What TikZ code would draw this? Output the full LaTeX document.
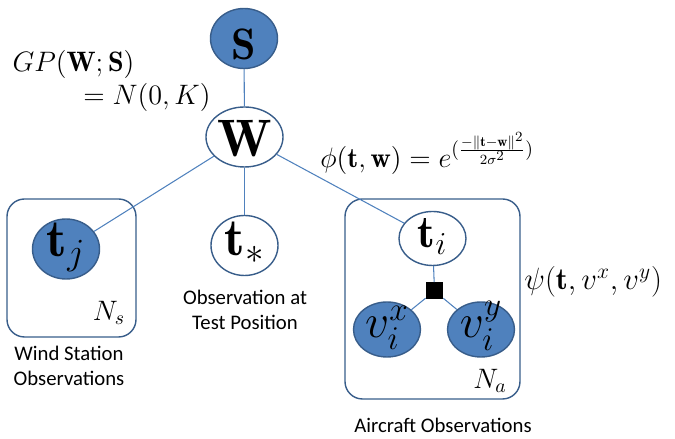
\RequirePackage{fix-cm}
\documentclass[tikz,border=0pt]{standalone}
\usepackage{fontspec}
\usepackage{amsmath}
\newfontfamily\labelfont{Carlito}
\usetikzlibrary{shapes.geometric}
\definecolor{varfill}{RGB}{79,129,189}
\definecolor{varline}{RGB}{56,93,138}

\begin{document}
\begin{tikzpicture}[
		every node/.style={inner sep=0pt},
		var/.style={ellipse, draw=varline, line width=0.8pt, minimum width=1.34cm,
			minimum height=1.2cm, text height=0pt, text depth=0pt,
			font=\fontsize{30}{32}\selectfont},
		obs/.style={var, fill=varfill},
		plate/.style={draw=varline, line width=0.8pt, rounded corners=0.35cm},
		edge/.style={draw=varfill, line width=0.6pt},
		eqn/.style={font=\fontsize{16}{18}\selectfont},
		caption/.style={align=center, font=\labelfont\fontsize{11.8}{14.3}\selectfont}
		]
		\useasboundingbox (0,0) rectangle (13.5,8.78);
		% plates
		\node[plate, minimum width=2.58cm, minimum height=2.76cm] (wsplate) at (1.43,3.42) {};
		\node[plate, minimum width=3.5cm, minimum height=4cm] (acplate) at (8.65,2.8) {};
		% variables
		\node[obs, font=\fontsize{25}{27}\selectfont] (S) at (4.88,8.01) {\raisebox{-0.42cm}{$\mathbf{S}$}};
		\node[var] (W) at (4.89,6.04) {\raisebox{-0.4cm}{$\mathbf{W}$}};
		\node[obs] (tj) at (1.32,3.80) {\raisebox{-0.16cm}{$\mathbf{t}_j$}};
		\node[var] (ts) at (4.89,3.87) {\raisebox{-0.2cm}{$\mathbf{t}_*$}};
		\node[var, minimum height=1.08cm, font=\fontsize{26}{28}\selectfont] (ti) at (8.65,4.01) {\raisebox{-0.19cm}{$\mathbf{t}_i$}};
		\node[obs, minimum height=1.1cm, font=\fontsize{27}{30}\selectfont] (vx) at (7.74,2.19) {\raisebox{-0.17cm}{$v_i^x$}};
		\node[obs, minimum height=1.1cm, font=\fontsize{27}{30}\selectfont] (vy) at (9.62,2.19) {\raisebox{-0.17cm}{$v_i^y$}};
		\node[fill=black, minimum size=0.34cm] (f) at (8.69,2.96) {};
		% edges
		\draw[edge] (S) -- (W);
		\draw[edge] (W) -- (tj);
		\draw[edge] (W) -- (ts);
		\draw[edge] (W) -- (ti);
		\draw[edge] (ti) -- (f);
		\draw[edge] (f) -- (vx);
		\draw[edge] (f) -- (vy);
		% labels
		\node[eqn] (gp) at (1.47,7.50) {$GP(\mathbf{W};\mathbf{S})$};
		\node[eqn] (gpn) at (2.94,6.84) {$=N(0,K)$};
		\node[eqn, anchor=base west] (phi) at (6.40,5.42) {$\phi(\mathbf{t},\mathbf{w})=e^{(\frac{-\|\mathbf{t}-\mathbf{w}\|^2}{2\sigma^2})}$};
		\node[eqn, font=\fontsize{17.5}{20}\selectfont, anchor=base west] (psi) at (10.48,2.98) {$\psi(\mathbf{t},v^x,v^y)$};
		\node[eqn] (ns) at (2.18,2.52) {$N_s$};
		\node[eqn] (na) at (9.80,1.16) {$N_a$};
		\node[caption] (tslabel) at (4.90,2.59) {Observation at\\Test Position};
		\node[caption] (wslabel) at (1.38,1.47) {Wind Station\\Observations};
		\node[caption] (aclabel) at (8.86,0.28) {Aircraft Observations};
\end{tikzpicture}
\end{document}
